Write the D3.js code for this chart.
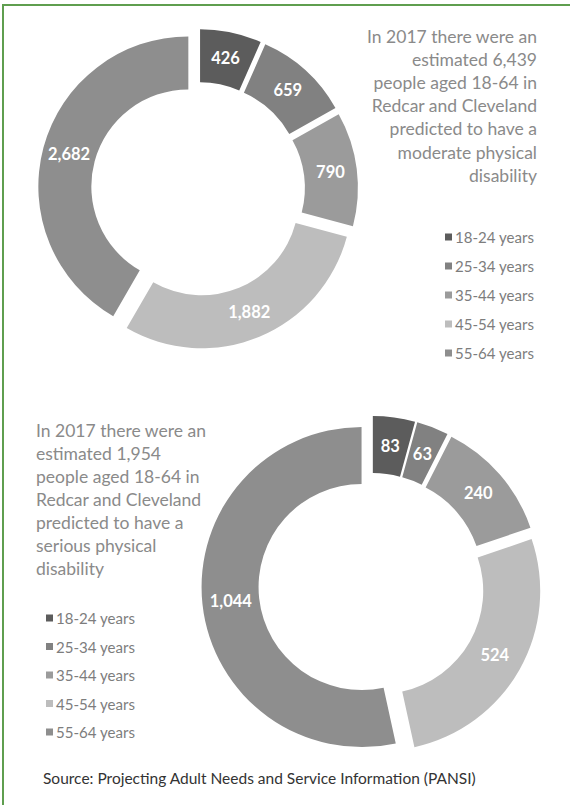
<!DOCTYPE html>
<html>
<head>
<meta charset="utf-8">
<script src="https://cdn.jsdelivr.net/npm/d3@7"></script>
<style>
  body { margin: 0; background: #ffffff; }
  svg { display: block; }
</style>
</head>
<body>
<svg id="chart" width="570" height="805"></svg>
<script>
// Age bands shared by both doughnuts
const ageGroups = ["18-24 years", "25-34 years", "35-44 years", "45-54 years", "55-64 years"];
// People aged 18-64 with a moderate physical disability, 2017
const moderateValues = [426, 659, 790, 1882, 2682];
// People aged 18-64 with a serious physical disability, 2017
const seriousValues = [83, 63, 240, 524, 1044];
const groupColors = ["#5c5c5c", "#818181", "#9b9b9b", "#bdbdbd", "#8e8e8e"];

const moderateTitle = ["In 2017 there were an", "estimated 6,439", "people aged 18-64 in",
  "Redcar and Cleveland", "predicted to have a", "moderate physical", "disability"];
const seriousTitle = ["In 2017 there were an", "estimated 1,954", "people aged 18-64 in",
  "Redcar and Cleveland", "predicted to have a", "serious physical", "disability"];
const sourceNote = "Source: Projecting Adult Needs and Service Information (PANSI)";

const FONT = "Lato, 'Open Sans', sans-serif";
const svg = d3.select("#chart");
const color = d3.scaleOrdinal(ageGroups, groupColors);
const fmt = d3.format(",");

// Font size that makes a string span a given width
function fitSize(text, width, weight) {
  const t = svg.append("text").attr("font-family", FONT)
    .attr("font-weight", weight).attr("font-size", 100).text(text);
  const w = t.node().getComputedTextLength();
  t.remove();
  return 100 * width / w;
}

// Page frame (runs off the right and bottom edges)
svg.append("rect")
  .attr("x", 3).attr("y", 5).attr("width", 700).attr("height", 900)
  .attr("fill", "none").attr("stroke", "#5f9e4f").attr("stroke-width", 2);

// Exploded doughnut: each slice is pushed out along its bisector
function doughnut(values, cx, cy, outer, inner, explode) {
  const pie = d3.pie().sort(null).value(d => d);
  const arc = d3.arc().innerRadius(inner).outerRadius(outer);
  const g = svg.append("g").attr("transform", `translate(${cx},${cy})`);
  const slices = g.selectAll("g.slice")
    .data(pie(values.map((v, i) => ({ v, group: ageGroups[i] })).map(d => d.v)))
    .join("g")
    .attr("class", "slice")
    .attr("transform", d => {
      const m = (d.startAngle + d.endAngle) / 2;
      return `translate(${explode * Math.sin(m)},${-explode * Math.cos(m)})`;
    });
  slices.append("path")
    .attr("d", arc)
    .attr("fill", (d, i) => color(ageGroups[i]));
  slices.append("text")
    .attr("transform", d => `translate(${arc.centroid(d)})`)
    .attr("text-anchor", "middle")
    .attr("dominant-baseline", "central")
    .attr("font-family", FONT)
    .attr("font-weight", 700)
    .attr("font-size", 16.5)
    .attr("fill", "#ffffff")
    .text(d => fmt(d.value));
}

function titleBlock(lines, x, y0, step, anchor, size) {
  svg.append("g").selectAll("text")
    .data(lines)
    .join("text")
    .attr("x", x)
    .attr("y", (d, i) => y0 + i * step)
    .attr("text-anchor", anchor)
    .attr("dominant-baseline", "central")
    .attr("font-family", FONT)
    .attr("font-size", size)
    .attr("fill", "#8a8a8a")
    .text(d => d);
}

function legend(x, y0, step, size) {
  const rows = svg.append("g").selectAll("g")
    .data(ageGroups)
    .join("g")
    .attr("transform", (d, i) => `translate(${x},${y0 + i * step})`);
  rows.append("rect")
    .attr("x", -10).attr("y", -3.5).attr("width", 7).attr("height", 7)
    .attr("fill", d => color(d));
  rows.append("text")
    .attr("x", 0)
    .attr("dominant-baseline", "central")
    .attr("font-family", FONT)
    .attr("font-size", size)
    .attr("fill", "#7d7d7d")
    .text(d => d);
}

const titleSize = fitSize("In 2017 there were an", 170, 400);
const legendSize = fitSize("18-24 years", 79, 400);

// Moderate physical disability
doughnut(moderateValues, 198, 189, 150, 97, 10);
titleBlock(moderateTitle, 537, 36, 23.2, "end", titleSize);
legend(455, 237, 29, legendSize);

// Serious physical disability
doughnut(seriousValues, 371.5, 586, 160, 103, 10);
titleBlock(seriousTitle, 36, 430, 23, "start", titleSize);
legend(56, 618, 28.5, legendSize);

// Source line
svg.append("text")
  .attr("x", 43).attr("y", 778)
  .attr("dominant-baseline", "central")
  .attr("font-family", FONT)
  .attr("font-size", fitSize(sourceNote, 433, 400))
  .attr("fill", "#333333")
  .text(sourceNote);
</script>
</body>
</html>
